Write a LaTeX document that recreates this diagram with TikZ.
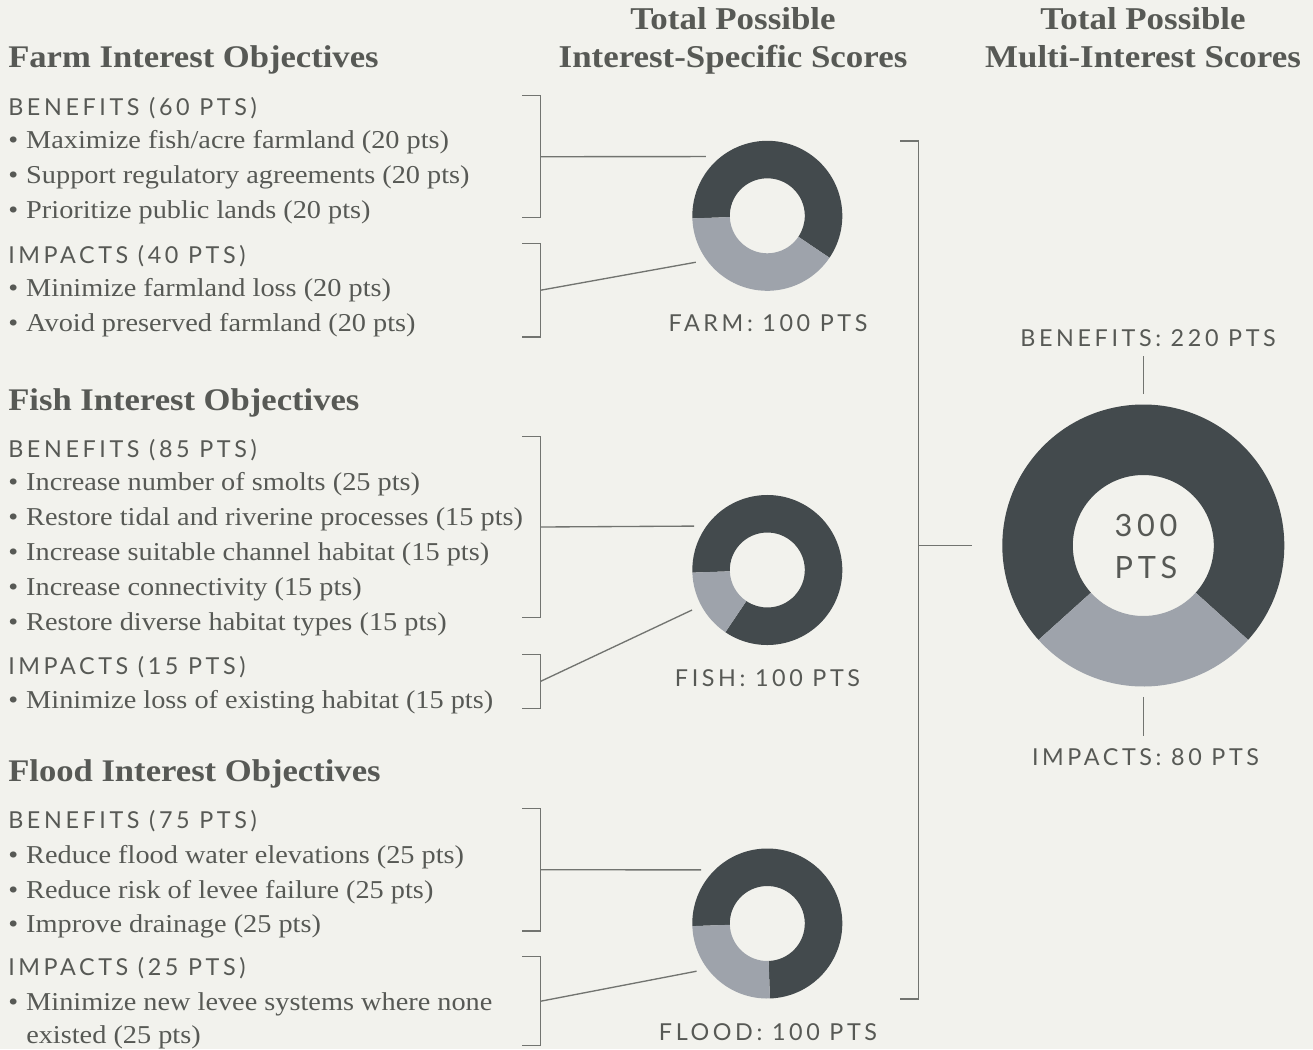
\documentclass[tikz,border=0pt]{standalone}
\usepackage{fontspec}
\setmainfont[FakeStretch=1.1]{Liberation Serif}
\newfontfamily\capsfont[LetterSpace=15.5]{Lato}
\usetikzlibrary{positioning,calc}

\definecolor{bgc}{HTML}{F2F2ED}
\definecolor{darkc}{HTML}{434A4D}
\definecolor{lightc}{HTML}{9EA3AB}
\definecolor{textc}{HTML}{575955}
\definecolor{linec}{HTML}{727470}

\newcommand{\bul}{\makebox[13.5pt][l]{•}}

\begin{document}
\begin{tikzpicture}[
    x=0.75pt, y=0.75pt,
    title/.style={anchor=base west, inner sep=0, text=textc, font=\fontsize{23.6}{28}\selectfont\bfseries},
    head/.style={anchor=base, inner sep=0, text=textc, font=\fontsize{23.8}{28}\selectfont\bfseries},
    group/.style={anchor=base west, inner sep=0, text=textc, font=\fontsize{17.5}{21}\capsfont},
    item/.style={anchor=base west, inner sep=0, text=textc, font=\fontsize{19.3}{24}\selectfont},
    score/.style={anchor=base, inner sep=0, text=textc, font=\fontsize{17.5}{21}\capsfont},
    total/.style={anchor=base, inner sep=0, text=textc, font=\fontsize{23}{28}\capsfont},
    ring/.style={circle, inner sep=0, minimum size=127.5pt},
    bigring/.style={circle, inner sep=0, minimum size=226.5pt},
    bracket/.style={draw=linec, line width=1pt}
]
    % Canvas
    \fill[bgc] (0,0) rectangle (1313,-1049);
    \useasboundingbox (0,0) rectangle (1313,-1049);

    % Column heads
    \node[head] (h1a) at (733,-30) {Total Possible};
    \node[head] (h1b) at (733,-68) {Interest-Specific Scores};
    \node[head] (h2a) at (1143,-30) {Total Possible};
    \node[head] (h2b) at (1143,-68) {Multi-Interest Scores};

    % Farm objectives
    \node[title] (farmt) at (8,-68) {Farm Interest Objectives};
    \node[group] (farmb) at (8,-115) {BENEFITS (60 PTS)};
    \node[item] (fab1) at (8,-148) {\bul Maximize fish/acre farmland (20 pts)};
    \node[item] (fab2) at (8,-183) {\bul Support regulatory agreements (20 pts)};
    \node[item] (fab3) at (8,-218) {\bul Prioritize public lands (20 pts)};
    \node[group] (farmi) at (8,-263) {IMPACTS (40 PTS)};
    \node[item] (fai1) at (8,-296) {\bul Minimize farmland loss (20 pts)};
    \node[item] (fai2) at (8,-331) {\bul Avoid preserved farmland (20 pts)};

    % Fish objectives
    \node[title] (fisht) at (8,-410) {Fish Interest Objectives};
    \node[group] (fishb) at (8,-457) {BENEFITS (85 PTS)};
    \node[item] (fib1) at (8,-490) {\bul Increase number of smolts (25 pts)};
    \node[item] (fib2) at (8,-525) {\bul Restore tidal and riverine processes (15 pts)};
    \node[item] (fib3) at (8,-560) {\bul Increase suitable channel habitat (15 pts)};
    \node[item] (fib4) at (8,-595) {\bul Increase connectivity (15 pts)};
    \node[item] (fib5) at (8,-630) {\bul Restore diverse habitat types (15 pts)};
    \node[group] (fishi) at (8,-674) {IMPACTS (15 PTS)};
    \node[item] (fii1) at (8,-708) {\bul Minimize loss of existing habitat (15 pts)};

    % Flood objectives
    \node[title] (floodt) at (8,-781) {Flood Interest Objectives};
    \node[group] (floodb) at (8,-828) {BENEFITS (75 PTS)};
    \node[item] (flb1) at (8,-863) {\bul Reduce flood water elevations (25 pts)};
    \node[item] (flb2) at (8,-898) {\bul Reduce risk of levee failure (25 pts)};
    \node[item] (flb3) at (8,-932) {\bul Improve drainage (25 pts)};
    \node[group] (floodi) at (8,-975) {IMPACTS (25 PTS)};
    \node[item] (fli1) at (8,-1010) {\bul Minimize new levee systems where none};
    \node[item] (fli1b) at (26,-1043) {existed (25 pts)};

    % Donuts (benefits dark, impacts light)
    \node[ring] (farm) at (767.3,-215.8) {};
    \node[ring] (fish) at (767.3,-570) {};
    \node[ring] (flood) at (767.3,-923.5) {};
    \node[bigring] (big) at (1143.3,-545.5) {};

    \fill[darkc] ($(farm)+(-34:75)$) arc[start angle=-34, end angle=182, radius=75] -- ($(farm)+(182:37.5)$) arc[start angle=182, end angle=-34, radius=37.5] -- cycle;
    \fill[lightc] ($(farm)+(182:75)$) arc[start angle=182, end angle=326, radius=75] -- ($(farm)+(326:37.5)$) arc[start angle=326, end angle=182, radius=37.5] -- cycle;

    \fill[darkc] ($(fish)+(-124:75)$) arc[start angle=-124, end angle=182, radius=75] -- ($(fish)+(182:37.5)$) arc[start angle=182, end angle=-124, radius=37.5] -- cycle;
    \fill[lightc] ($(fish)+(182:75)$) arc[start angle=182, end angle=236, radius=75] -- ($(fish)+(236:37.5)$) arc[start angle=236, end angle=182, radius=37.5] -- cycle;

    \fill[darkc] ($(flood)+(-88:75)$) arc[start angle=-88, end angle=182, radius=75] -- ($(flood)+(182:37.5)$) arc[start angle=182, end angle=-88, radius=37.5] -- cycle;
    \fill[lightc] ($(flood)+(182:75)$) arc[start angle=182, end angle=272, radius=75] -- ($(flood)+(272:37.5)$) arc[start angle=272, end angle=182, radius=37.5] -- cycle;

    \fill[darkc] ($(big)+(-42:141)$) arc[start angle=-42, end angle=222, radius=141] -- ($(big)+(222:70.5)$) arc[start angle=222, end angle=-42, radius=70.5] -- cycle;
    \fill[lightc] ($(big)+(222:141)$) arc[start angle=222, end angle=318, radius=141] -- ($(big)+(318:70.5)$) arc[start angle=318, end angle=222, radius=70.5] -- cycle;

    % Score labels
    \node[score] (farms) at (768,-331.7) {FARM: 100 PTS};
    \node[score] (fishs) at (767.5,-686.7) {FISH: 100 PTS};
    \node[score] (floods) at (768,-1040) {FLOOD: 100 PTS};
    \node[score] (bigb) at (1148,-346) {BENEFITS: 220 PTS};
    \node[score] (bigi) at (1145.5,-765) {IMPACTS: 80 PTS};
    \node[total] (bign) at (1146,-536.7) {300};
    \node[total] (bigu) at (1146,-578) {PTS};

    % Brackets
    \draw[bracket] (522,-95.7) -| (540.7,-217.7) -- (522,-217.7);
    \draw[bracket] (522,-243.3) -| (540.7,-337) -- (522,-337);
    \draw[bracket] (522,-436.7) -| (540.7,-617.3) -- (522,-617.3);
    \draw[bracket] (522,-654.3) -| (540.7,-708.3) -- (522,-708.3);
    \draw[bracket] (522,-808.7) -| (540.7,-931) -- (522,-931);
    \draw[bracket] (522,-956.7) -| (540.7,-1045.7) -- (522,-1045.7);
    \draw[bracket] (900,-141) -| (918.7,-999) -- (900,-999);

    \coordinate (farmbk) at (540.7,-156.7);
    \coordinate (farmik) at (540.7,-290.2);
    \coordinate (fishbk) at (540.7,-527);
    \coordinate (fishik) at (540.7,-681.3);
    \coordinate (floodbk) at (540.7,-869.8);
    \coordinate (floodik) at (540.7,-1001.2);
    \coordinate (allk) at (918.7,-545.5);

    % Connectors
    \draw[bracket] (farmbk) -- (farm.136);
    \draw[bracket] (farmik) -- (farm.213.5);
    \draw[bracket] (fishbk) -- (fish.149.8);
    \draw[bracket] (fishik) -- (fish.208);
    \draw[bracket] (floodbk) -- (flood.141);
    \draw[bracket] (floodik) -- (flood.214.5);
    \draw[bracket] (allk) -- ([xshift=-15pt]big.west);
    \draw[bracket] (big.north) -- ++(0,38.7);
    \draw[bracket] (big.south) -- ++(0,-39);
\end{tikzpicture}
\end{document}
